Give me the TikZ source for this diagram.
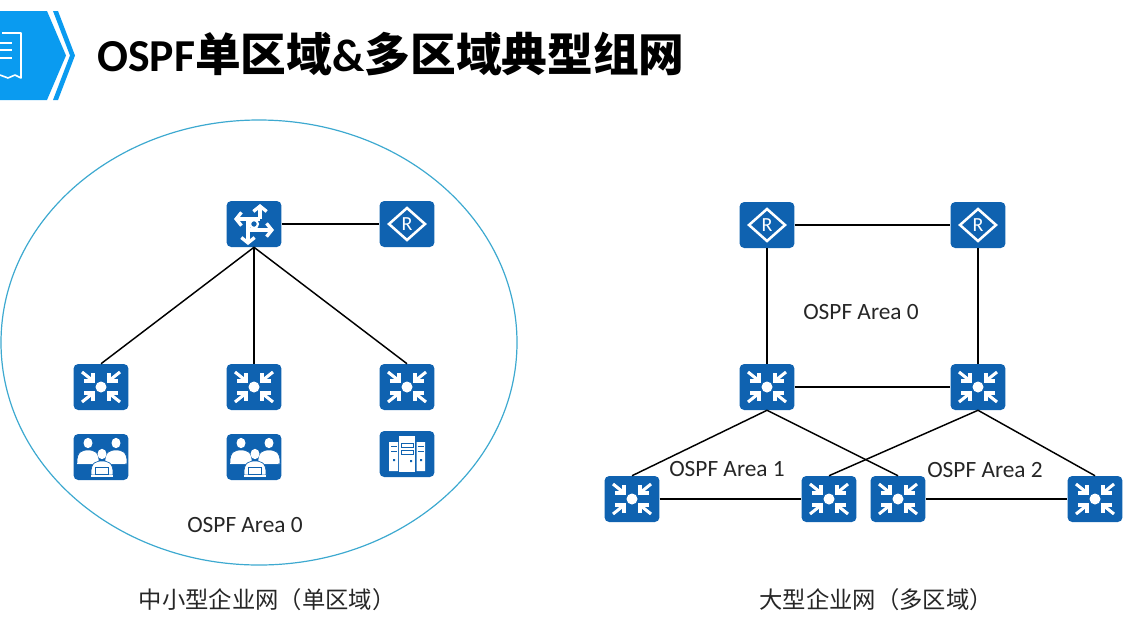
\documentclass[tikz,border=0pt]{standalone}
\usepackage{fontspec}
\setmainfont{Carlito}
\newfontfamily\cjk{Noto Sans CJK SC}
\usetikzlibrary{calc,arrows.meta,positioning}
\definecolor{devblue}{HTML}{0F62B0}
\definecolor{bannerblue}{HTML}{0A9BF0}
\definecolor{ringblue}{HTML}{3DA9D0}
\tikzset{
  devbox/.style={fill=devblue, rounded corners=3.5pt, minimum width=41.2pt, minimum height=34.5pt, inner sep=0pt},
  link/.style={draw=black, line width=1.1pt},
  areatext/.style={font=\fontsize{17.5}{19}\selectfont, text=black!85},
  captext/.style={font=\cjk\fontsize{17.5}{19}\selectfont, text=black!85},
  glyph/.style={draw=white, line width=2.5pt, -{Straight Barb[length=4pt,width=10pt]}},
  bodyfill/.style={fill=white, draw=devblue, line width=.5pt}
}
% switch: four arrows pointing at a dot
\newcommand{\hubicon}[1]{
  \begin{scope}[shift={(#1)}]
  \fill[white] (0,0) circle (5.5);
  \foreach \sx/\sy in {1/1,-1/1,1/-1,-1/-1} {
    \draw[white, line width=2.3pt] (\sx*19,\sy*15) -- (\sx*9,\sy*7);
    \draw[white, line width=2.3pt] (\sx*17,\sy*6) -- (\sx*8,\sy*6) -- (\sx*8,\sy*14);}
  \end{scope}
}
% router: diamond with R
\newcommand{\routericon}[1]{
  \begin{scope}[shift={(#1)}]
  \draw[white, line width=1.9pt] (-18,0) -- (0,-16) -- (18,0) -- (0,16) -- cycle;
  \path (0,0) node[text=white, font=\fontsize{15}{15}\selectfont] {R};
  \end{scope}
}
% core switch: crossing arrows
\newcommand{\coreicon}[1]{
  \begin{scope}[shift={(#1)}]
  \draw[glyph] (6,-5) -- (6,-20);
  \draw[glyph] (6,-5) -- (-20,-5);
  \draw[glyph] (-6,6) -- (20,6);
  \draw[glyph] (-6,-5) -- (-6,21);
  \draw[white, line width=1.6pt, fill=devblue] (0,0) circle (4);
  \end{scope}
}
% people at desks
\newcommand{\persona}[2]{
  \fill[white] (#1,#2-10) ellipse (4.5 and 5.2);
  \path[bodyfill] (#1-11,#2+11) .. controls (#1-12,#2-3) and (#1-4,#2-3) .. (#1,#2-3) .. controls (#1+4,#2-3) and (#1+12,#2-3) .. (#1+11,#2+11) -- cycle;
}
\newcommand{\usersicon}[1]{
  \begin{scope}[shift={(#1)}]
  \persona{-13}{-4}
  \persona{15}{-4}
  \draw[white, line width=.7pt] (-24,6) -- (24,6);
  \persona{1}{7}
  \path[bodyfill] (-6,10) rectangle (7,17);
  \draw[white, line width=.8pt] (-10,19) -- (12,19);
  \end{scope}
}
% servers
\newcommand{\servericon}[1]{
  \begin{scope}[shift={(#1)}]
  \fill[white] (-18,-12) rectangle (-9,17) (9.5,-12) rectangle (18,17);
  \fill[white] (-8,-18) rectangle (8,18);
  \draw[devblue, line width=.7pt] (-6,-11) rectangle (6,-7) (-6,-4) rectangle (6,0);
  \draw[devblue, line width=.7pt] (-16,-8) -- (-10,-8) (-16,-3) -- (-10,-3) (10.5,-8) -- (16.5,-8) (10.5,-3) -- (16.5,-3);
  \fill[devblue] (3,6) rectangle (5,8) (-14,5) rectangle (-12,7) (13,5) rectangle (15,7);
  \end{scope}
}
\begin{document}
\begin{tikzpicture}[x=.75pt, y=-.75pt]
\useasboundingbox (0,0) rectangle (1144,636);
%banner
\fill[bannerblue] (0,11) -- (47,11) -- (66,55.5) -- (47,100) -- (0,100) -- cycle;
\fill[bannerblue] (53,11) -- (58,11) -- (75,55.5) -- (58,100) -- (53,100) -- (70,55.5) -- cycle;
\draw[white, line width=1.2pt, line join=round] (2,33) -- (21,33) -- (21,78) -- (15,75) -- (8,78) -- (0,75);
\draw[white, line width=1.5pt] (0,43) -- (12,43) (0,50) -- (12,50) (0,58) -- (12,58);
\node[anchor=west, inner sep=0pt, font=\bfseries\fontsize{34.3}{36}\selectfont] (title) at (97,54) {OSPF{\cjk\bfseries 单区域}\&{\cjk\bfseries 多区域典型组网}};
%ring
\draw[ringblue, line width=.9pt] (259,342.5) ellipse (258 and 222.5);
%left
\node[devbox] (core) at (254,224) {};
\node[devbox] (rtA) at (407,224) {};
\node[devbox] (swA) at (101,387) {};
\node[devbox] (swB) at (254,387) {};
\node[devbox] (swC) at (407,387) {};
\node[devbox] (usrA) at (101,457) {};
\node[devbox] (usrB) at (254,457) {};
\node[devbox] (srvA) at (407,454) {};
\draw[link] (core) -- (rtA);
\draw[link] (core.south) -- (swA.north);
\draw[link] (core.south) -- (swB.north);
\draw[link] (core.south) -- (swC.north);
\coreicon{core}
\routericon{rtA}
\foreach \n in {swA,swB,swC} {\hubicon{\n}}
\usersicon{usrA}
\usersicon{usrB}
\servericon{srvA}
\node[areatext] (areaL) at (245,525) {OSPF Area 0};
\node[captext] (capL) at (267,600) {中小型企业网（单区域）};
%right
\node[devbox] (rtB) at (767,225) {};
\node[devbox] (rtC) at (978,225) {};
\node[devbox] (swD) at (767,387) {};
\node[devbox] (swE) at (978,387) {};
\node[devbox] (swF) at (632,499) {};
\node[devbox] (swG) at (829,499) {};
\node[devbox] (swH) at (898,499) {};
\node[devbox] (swI) at (1095,499) {};
\draw[link] (rtB) -- (rtC);
\draw[link] (rtB) -- (swD);
\draw[link] (rtC) -- (swE);
\draw[link] (swD) -- (swE);
\draw[link] (swF) -- (swG);
\draw[link] (swH) -- (swI);
\draw[link] (swD.south) -- (swF.north);
\draw[link] (swD.south) -- (swH.north);
\draw[link] (swE.south) -- (swG.north);
\draw[link] (swE.south) -- (swI.north);
\routericon{rtB}
\routericon{rtC}
\foreach \n in {swD,swE,swF,swG,swH,swI} {\hubicon{\n}}
\node[areatext] (areaA) at (861,312) {OSPF Area 0};
\node[areatext] (areaB) at (727,469) {OSPF Area 1};
\node[areatext] (areaC) at (985,470) {OSPF Area 2};
\node[captext] (capR) at (876,600) {大型企业网（多区域）};
\end{tikzpicture}
\end{document}
